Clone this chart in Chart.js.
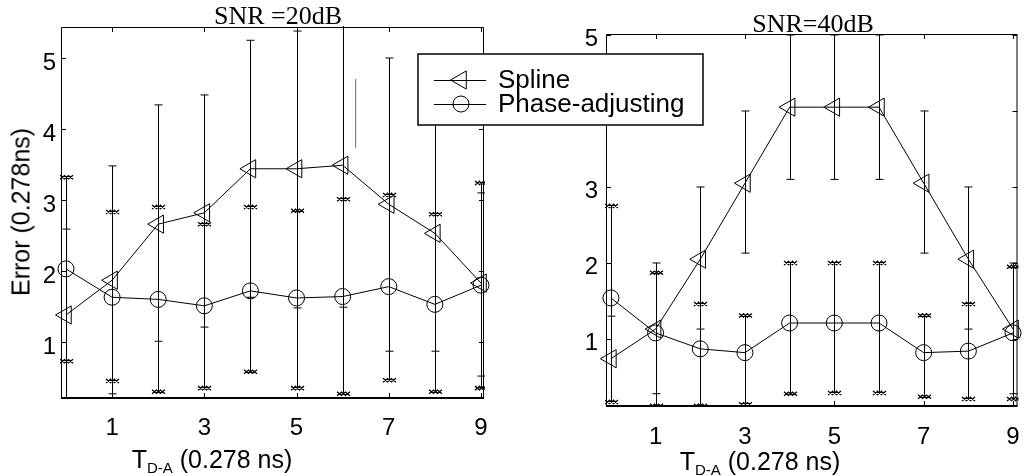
<!DOCTYPE html>
<html>
<head>
<meta charset="utf-8">
<script src="https://cdn.jsdelivr.net/npm/chart.js@4.4.1/dist/chart.umd.min.js"></script>
<style>
  html, body { margin: 0; padding: 0; background: #fff; }
  #wrap { position: relative; width: 1029px; height: 476px; overflow: hidden; background: #fff; }
  canvas { position: absolute; top: 0; }
  .lbl { position: absolute; white-space: nowrap; color: #000; line-height: 1; }
  .snr { font-family: "Times New Roman", "Liberation Serif", serif; font-size: 26px; transform: translateX(-50%); }
  .ax { font-family: Arial, "Liberation Sans", sans-serif; font-size: 25px; }
  .xt { transform: translateX(-50%); }
  .yt { transform: translate(-50%, -50%) rotate(-90deg); }
  .sub { font-size: 15px; position: relative; top: 5px; }
</style>
</head>
<body>
<div id="wrap">
  <canvas id="snr20" width="500" height="476" style="left:0"></canvas>
  <canvas id="snr40" width="629" height="476" style="left:400px"></canvas>
  <div class="lbl snr" style="left:278px; top:3px">SNR =20dB</div>
  <div class="lbl snr" style="left:813px; top:11px">SNR=40dB</div>
  <div class="lbl ax yt" style="left:21px; top:212px">Error (0.278ns)</div>
  <div class="lbl ax xt" style="left:212px; top:447px">T<span class="sub">D-A</span> (0.278 ns)</div>
  <div class="lbl ax xt" style="left:760px; top:449px">T<span class="sub">D-A</span> (0.278 ns)</div>
</div>
<script>
// x positions (T_D-A, units of 0.278 ns) and axis ticks
const tdaValues = [0, 1, 2, 3, 4, 5, 6, 7, 8, 9];
const xTickValues = [1, 3, 5, 7, 9];
const yTickValues = [1, 2, 3, 4, 5];
const seriesNames = ['Spline', 'Phase-adjusting'];

// SNR = 20 dB
const spline20 = [1.38, 1.87, 2.66, 2.82, 3.44, 3.44, 3.49, 2.94, 2.53, 1.83];
const spline20Lo = [0.17, 0.27, 1.01, 1.21, 1.63, 1.48, 1.49, 0.87, 0.87, 0.52];
const spline20Hi = [2.59, 3.48, 4.34, 4.48, 5.25, 5.38, 5.6, 5.0, 4.19, 3.1];
const phase20 = [2.03, 1.63, 1.6, 1.51, 1.72, 1.62, 1.64, 1.78, 1.53, 1.8];
const phase20Lo = [0.73, 0.45, 0.3, 0.35, 0.58, 0.35, 0.27, 0.46, 0.3, 0.35];
const phase20Hi = [3.32, 2.83, 2.9, 2.66, 2.9, 2.85, 3.01, 3.07, 2.8, 3.24];
// stray grey segment in the 20 dB panel
const strayX = [6.28, 6.28];
const strayY = [4.7, 3.74];

// SNR = 40 dB
const spline40 = [0.74, 1.13, 2.05, 3.05, 4.05, 4.05, 4.05, 3.05, 2.05, 1.13];
const spline40Lo = [0.18, 0.28, 1.13, 2.13, 3.1, 3.1, 3.1, 2.13, 1.13, 0.28];
const spline40Hi = [1.3, 2.0, 3.0, 4.0, 5.0, 5.0, 5.0, 4.0, 3.0, 2.0];
const phase40 = [1.54, 1.08, 0.87, 0.82, 1.21, 1.21, 1.21, 0.82, 0.84, 1.08];
const phase40Lo = [0.17, 0.12, 0.12, 0.14, 0.28, 0.29, 0.29, 0.24, 0.21, 0.21];
const phase40Hi = [2.75, 1.87, 1.46, 1.31, 2.0, 2.0, 2.0, 1.31, 1.46, 1.95];

const tickFont = { family: 'Arial, "Liberation Sans", sans-serif', size: 24 };

function toPoints(xs, ys) {
  return ys.map((v, i) => ({ x: xs[i], y: v }));
}

function triangleLeft(ctx, x, y, r) {
  ctx.beginPath();
  ctx.moveTo(x - r, y);
  ctx.lineTo(x + r / 2, y - r * 0.866);
  ctx.lineTo(x + r / 2, y + r * 0.866);
  ctx.closePath();
  ctx.stroke();
}

// error bars: vertical line, with a short dash ('line') or a row of x marks ('cross') at both ends
const errorBarPlugin = {
  id: 'errorBars',
  beforeDatasetsDraw(chart, args, opts) {
    const ctx = chart.ctx;
    const a = chart.chartArea;
    const xs = chart.scales.x, ys = chart.scales.y;
    ctx.save();
    ctx.beginPath();
    ctx.rect(a.left - 1, a.top - 1, a.right - a.left + 2, a.bottom - a.top + 2);
    ctx.clip();
    ctx.strokeStyle = '#000';
    opts.sets.forEach(set => {
      set.x.forEach((xv, i) => {
        const px = Math.round(xs.getPixelForValue(xv)) + 0.5;
        const pLo = ys.getPixelForValue(set.lo[i]);
        const pHi = ys.getPixelForValue(set.hi[i]);
        ctx.lineWidth = 1;
        ctx.beginPath();
        ctx.moveTo(px, pLo);
        ctx.lineTo(px, pHi);
        ctx.stroke();
        [pLo, pHi].forEach(py => {
          ctx.beginPath();
          if (set.cap === 'line') {
            ctx.lineWidth = 1;
            ctx.moveTo(px - 4, py);
            ctx.lineTo(px + 4, py);
          } else {
            ctx.lineWidth = 1.3;
            [-4, 0, 4].forEach(dx => {
              ctx.moveTo(px + dx - 2.5, py - 2);
              ctx.lineTo(px + dx + 2.5, py + 2);
              ctx.moveTo(px + dx - 2.5, py + 2);
              ctx.lineTo(px + dx + 2.5, py - 2);
            });
          }
          ctx.stroke();
        });
      });
    });
    ctx.restore();
  }
};

// box around the axes with inward ticks on all four sides
const framePlugin = {
  id: 'frame',
  afterDraw(chart) {
    const ctx = chart.ctx;
    const { left, right, top, bottom } = chart.chartArea;
    const xs = chart.scales.x, ys = chart.scales.y;
    ctx.save();
    ctx.strokeStyle = '#000';
    ctx.lineWidth = 1;
    ctx.beginPath();
    ctx.moveTo(left + 0.5, bottom);
    ctx.lineTo(left + 0.5, top + 0.5);
    ctx.lineTo(right - 0.5, top + 0.5);
    ctx.lineTo(right - 0.5, bottom);
    xTickValues.forEach(v => {
      const px = Math.round(xs.getPixelForValue(v)) + 0.5;
      ctx.moveTo(px, bottom);
      ctx.lineTo(px, bottom - 5);
      ctx.moveTo(px, top);
      ctx.lineTo(px, top + 5);
    });
    yTickValues.forEach(v => {
      const py = Math.round(ys.getPixelForValue(v)) + 0.5;
      ctx.moveTo(left, py);
      ctx.lineTo(left + 5, py);
      ctx.moveTo(right, py);
      ctx.lineTo(right - 5, py);
    });
    ctx.stroke();
    ctx.lineWidth = 2;
    ctx.beginPath();
    ctx.moveTo(left, bottom);
    ctx.lineTo(right, bottom);
    ctx.stroke();
    ctx.restore();
  }
};

// boxed legend, line sample with marker, drawn over both panels
const boxLegendPlugin = {
  id: 'boxLegend',
  afterDraw(chart, args, opts) {
    const ctx = chart.ctx;
    ctx.save();
    ctx.fillStyle = '#fff';
    ctx.fillRect(opts.x, opts.y, opts.w, opts.h);
    ctx.strokeStyle = '#000';
    ctx.lineWidth = 1.5;
    ctx.strokeRect(opts.x, opts.y, opts.w, opts.h);
    ctx.lineWidth = 1;
    ctx.font = '26px Arial, "Liberation Sans", sans-serif';
    ctx.fillStyle = '#000';
    ctx.textBaseline = 'middle';
    chart.data.datasets.slice(0, 2).forEach((ds, i) => {
      const cy = opts.rows[i];
      ctx.beginPath();
      ctx.moveTo(opts.lineX0, cy + 0.5);
      ctx.lineTo(opts.lineX1, cy + 0.5);
      ctx.stroke();
      const mx = opts.markerX;
      if (ds.pointStyle === 'triangle') {
        triangleLeft(ctx, mx, cy, ds.pointRadius);
      } else {
        ctx.beginPath();
        ctx.arc(mx, cy, ds.pointRadius, 0, Math.PI * 2);
        ctx.stroke();
      }
      ctx.fillText(ds.label, opts.textX, cy + 1);
    });
    ctx.restore();
  }
};

function buildChart(canvasId, cfg) {
  const datasets = [
    {
      label: seriesNames[0],
      data: toPoints(tdaValues, cfg.spline),
      borderColor: '#000', borderWidth: 1, tension: 0,
      pointStyle: 'triangle', rotation: -90, pointRadius: 10.5,
      pointBorderColor: '#000', pointBackgroundColor: 'rgba(0,0,0,0)', pointBorderWidth: 1,
      clip: false
    },
    {
      label: seriesNames[1],
      data: toPoints(tdaValues, cfg.phase),
      borderColor: '#000', borderWidth: 1, tension: 0,
      pointStyle: 'circle', pointRadius: 8,
      pointBorderColor: '#000', pointBackgroundColor: 'rgba(0,0,0,0)', pointBorderWidth: 1,
      clip: false
    }
  ].concat(cfg.extra || []);

  return new Chart(document.getElementById(canvasId), {
    type: 'line',
    data: { datasets },
    options: {
      responsive: false,
      animation: false,
      events: [],
      layout: { padding: cfg.padding },
      plugins: {
        legend: { display: false },
        tooltip: { enabled: false },
        errorBars: {
          sets: [
            { x: tdaValues, lo: cfg.splineLo, hi: cfg.splineHi, cap: 'line' },
            { x: tdaValues, lo: cfg.phaseLo, hi: cfg.phaseHi, cap: 'cross' }
          ]
        },
        boxLegend: cfg.legend || false
      },
      scales: {
        x: {
          type: 'linear', min: cfg.xMin, max: cfg.xMax,
          grid: { display: false, drawTicks: false },
          border: { display: false },
          ticks: { font: tickFont, color: '#000', padding: cfg.xPad, maxRotation: 0 },
          afterBuildTicks: s => { s.ticks = xTickValues.map(v => ({ value: v })); },
          afterFit: s => { s.height = cfg.xHeight; s.paddingLeft = 0; s.paddingRight = 0; }
        },
        y: {
          type: 'linear', min: cfg.yMin, max: cfg.yMax,
          grid: { display: false, drawTicks: false },
          border: { display: false },
          ticks: { font: tickFont, color: '#000', padding: cfg.yPad, labelOffset: cfg.yLabelOffset },
          afterBuildTicks: s => { s.ticks = yTickValues.map(v => ({ value: v })); },
          afterFit: s => { s.width = cfg.yWidth; s.paddingTop = 0; s.paddingBottom = 0; }
        }
      }
    },
    plugins: [errorBarPlugin, framePlugin, boxLegendPlugin]
  });
}

buildChart('snr20', {
  spline: spline20, splineLo: spline20Lo, splineHi: spline20Hi,
  phase: phase20, phaseLo: phase20Lo, phaseHi: phase20Hi,
  xMin: -0.108, xMax: 9.065, yMin: 0.211, yMax: 5.437,
  padding: { top: 27, right: 16, left: 0, bottom: 0 },
  yWidth: 61, xHeight: 78, xPad: 16, yPad: 5, yLabelOffset: 5,
  extra: [{
    label: 'stray',
    data: toPoints(strayX, strayY),
    borderColor: '#808080', borderWidth: 1, pointRadius: 0
  }]
});

buildChart('snr40', {
  spline: spline40, splineLo: spline40Lo, splineHi: spline40Hi,
  phase: phase40, phaseLo: phase40Lo, phaseHi: phase40Hi,
  xMin: -0.11, xMax: 9.1, yMin: 0.118, yMax: 5.013,
  padding: { top: 34, right: 1, left: 0, bottom: 0 },
  yWidth: 206, xHeight: 70, xPad: 17, yPad: 8, yLabelOffset: 4,
  legend: {
    x: 18, y: 54, w: 285, h: 71,
    rows: [80, 104], lineX0: 34, lineX1: 86, markerX: 61, textX: 98
  }
});
</script>
</body>
</html>
